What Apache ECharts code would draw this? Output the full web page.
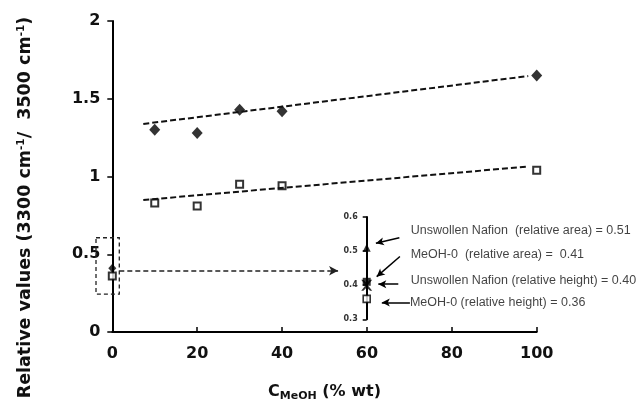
<!DOCTYPE html>
<html>
<head>
<meta charset="utf-8">
<script src="https://cdn.jsdelivr.net/npm/echarts@6/dist/echarts.min.js"></script>
<style>html,body{margin:0;padding:0;background:#fff}#c{width:642px;height:403px}</style>
</head>
<body>
<div id="c"></div>
<script>
// ---- data ----
var xConc = [10, 20, 30, 40, 100];
var areaValues = [1.30, 1.28, 1.43, 1.42, 1.65];      // filled diamonds
var heightValues = [0.83, 0.81, 0.95, 0.94, 1.04];    // open squares
var zeroArea = 0.41;    // MeOH-0 relative area
var zeroHeight = 0.36;  // MeOH-0 relative height
var areaTrend = [[7.3, 1.338], [98, 1.646]];
var heightTrend = [[7.3, 0.849], [97.5, 1.063]];
var zoomBox = [[-3.84, 0.606], [1.65, 0.244]];   // two opposite corners
var zoomArrow = [[1.65, 0.394], [53.2, 0.394]];
var xTicks = [0, 20, 40, 60, 80, 100];
var yTicks = [0, 0.5, 1, 1.5, 2];
// inset
var insetTicks = [0.3, 0.4, 0.5, 0.6];
var unswollenArea = 0.51;
var unswollenHeight = 0.40;
var insetLabels = [
  'Unswollen Nafion  (relative area) = 0.51',
  'MeOH-0  (relative area) =  0.41',
  'Unswollen Nafion (relative height) = 0.40',
  'MeOH-0 (relative height) = 0.36'
];
// annotation positions in inset coordinates (x: 0..10, y: value)
var insetLabelPos = [[1.63, 0.56], [1.63, 0.489], [1.63, 0.415], [1.6, 0.349]];
var insetArrows = [
  [[1.21, 0.539], [0.34, 0.523]],
  [[1.23, 0.484], [0.37, 0.425]],
  [[1.17, 0.403], [0.43, 0.403]],
  [[1.6, 0.349], [0.56, 0.349]]
];

var tickFont = 'DejaVu Sans, Verdana, sans-serif';
var pairs = function (xs, ys) { return xs.map(function (x, i) { return [x, ys[i]]; }); };
var X_PATH = 'path://M0,0L2,0L5,3L8,0L10,0L6,5L10,10L8,10L5,7L2,10L0,10L4,5Z';

var chart = echarts.init(document.getElementById('c'), null, {renderer: 'canvas'});
chart.setOption({
  animation: false,
  backgroundColor: '#fff',
  grid: [
    {left: 112.3, right: 105.3, top: 21, bottom: 71, containLabel: false, outerBoundsMode: 'none'},
    {left: 366.7, top: 217, width: 270, height: 102.3, containLabel: false, outerBoundsMode: 'none'}
  ],
  xAxis: [{
    gridIndex: 0, type: 'value', min: 0, max: 100, interval: 20,
    axisLine: {lineStyle: {color: '#000', width: 2}},
    axisTick: {inside: true, length: 5, lineStyle: {color: '#000', width: 1.5}},
    splitLine: {show: false},
    axisLabel: {color: '#111', fontFamily: tickFont, fontWeight: 'bold', fontSize: 16, margin: 14},
    name: 'C{sub|MeOH} (% wt)', nameLocation: 'middle', nameGap: 50,
    nameTextStyle: {color: '#111', fontFamily: tickFont, fontWeight: 'bold', fontSize: 16,
      rich: {sub: {fontFamily: tickFont, fontWeight: 'bold', fontSize: 11, padding: [9, 0, 0, 0], color: '#111'}}}
  }, {
    gridIndex: 1, type: 'value', min: 0, max: 10, show: false
  }],
  yAxis: [{
    gridIndex: 0, type: 'value', min: 0, max: 2, interval: 0.5,
    axisLine: {show: true, lineStyle: {color: '#000', width: 2}},
    axisTick: {show: true, length: 5, lineStyle: {color: '#000', width: 1.5}},
    splitLine: {show: false},
    axisLabel: {color: '#111', fontFamily: tickFont, fontWeight: 'bold', fontSize: 16, margin: 12},
    name: 'Relative values (3300 cm{sup|-1}/  3500 cm{sup|-1})', nameLocation: 'middle', nameGap: 77, nameRotate: 90,
    nameTextStyle: {color: '#111', fontFamily: tickFont, fontWeight: 'bold', fontSize: 17.5, padding: [0, 62, 0, 0],
      rich: {sup: {fontFamily: tickFont, fontWeight: 'bold', fontSize: 10.5, padding: [0, 0, 9, 0], color: '#111'}}}
  }, {
    gridIndex: 1, type: 'value', min: 0.3, max: 0.6, interval: 0.1,
    axisLine: {show: true, lineStyle: {color: '#000', width: 2}},
    axisTick: {show: true, length: 4, interval: function (i) { return i === 0 || i === 3; },
      lineStyle: {color: '#000', width: 1.5}},
    splitLine: {show: false},
    axisLabel: {color: '#333', fontFamily: tickFont, fontWeight: 'bold', fontSize: 8, margin: 9}
  }],
  series: [
    {type: 'line', xAxisIndex: 0, yAxisIndex: 0, data: areaTrend, symbol: 'none', silent: true,
      lineStyle: {color: '#111', width: 2, type: [6, 3]}},
    {type: 'line', xAxisIndex: 0, yAxisIndex: 0, data: heightTrend, symbol: 'none', silent: true,
      lineStyle: {color: '#111', width: 2, type: [6, 3]}},
    {type: 'custom', xAxisIndex: 0, yAxisIndex: 0, clip: false, silent: true, data: [zoomBox[0].concat(zoomBox[1])],
      encode: {x: [0, 2], y: [1, 3]},
      renderItem: function (params, api) {
        var p1 = api.coord([api.value(0), api.value(1)]);
        var p2 = api.coord([api.value(2), api.value(3)]);
        return {type: 'rect', shape: {x: p1[0], y: p1[1], width: p2[0] - p1[0], height: p2[1] - p1[1]},
          style: {fill: 'none', stroke: '#222', lineWidth: 1.3, lineDash: [4, 3]}};
      }},
    {type: 'line', xAxisIndex: 0, yAxisIndex: 0, data: [], symbol: 'none', silent: true,
      markLine: {silent: true, symbol: ['none', 'arrow'], symbolSize: [7, 9], label: {show: false},
        lineStyle: {color: '#222', width: 1.5, type: [5, 3]},
        data: [[{coord: zoomArrow[0]}, {coord: zoomArrow[1]}]]}},
    {type: 'scatter', xAxisIndex: 0, yAxisIndex: 0, data: pairs(xConc, areaValues),
      symbol: 'diamond', symbolSize: [11, 12], itemStyle: {color: '#000'}},
    {type: 'scatter', xAxisIndex: 0, yAxisIndex: 0, data: [[0, zeroArea]], clip: false,
      symbol: 'diamond', symbolSize: [8, 9], itemStyle: {color: '#000'}},
    {type: 'scatter', xAxisIndex: 0, yAxisIndex: 0, data: pairs(xConc, heightValues).concat([[0, zeroHeight]]),
      clip: false, symbol: 'rect', symbolSize: 7, itemStyle: {color: '#fff', borderColor: '#000', borderWidth: 2}},
    // inset
    {type: 'scatter', xAxisIndex: 1, yAxisIndex: 1, data: [[0, unswollenArea]], symbol: 'triangle', symbolSize: 8,
      itemStyle: {color: '#000'}},
    {type: 'scatter', xAxisIndex: 1, yAxisIndex: 1, data: [[0, unswollenHeight]], symbol: X_PATH, symbolSize: 11,
      itemStyle: {color: '#000'}},
    {type: 'scatter', xAxisIndex: 1, yAxisIndex: 1, data: [[0, zeroArea]], symbol: 'rect', symbolSize: 8,
      itemStyle: {color: '#000'}},
    {type: 'scatter', xAxisIndex: 1, yAxisIndex: 1, data: [[0, zeroHeight]], symbol: 'rect', symbolSize: 7,
      itemStyle: {color: '#fff', borderColor: '#000', borderWidth: 1.6}},
    {type: 'scatter', xAxisIndex: 1, yAxisIndex: 1, symbolSize: 0, silent: true,
      data: insetLabelPos.map(function (p, i) { return {value: p, name: insetLabels[i]}; }),
      label: {show: true, position: 'right', distance: 0, formatter: '{b}', color: '#111',
        fontFamily: 'Liberation Sans, Arial, sans-serif', fontSize: 12.5}},
    {type: 'line', xAxisIndex: 1, yAxisIndex: 1, data: [], symbol: 'none', silent: true,
      markLine: {silent: true, symbol: ['none', 'arrow'], symbolSize: [6, 8], label: {show: false},
        lineStyle: {color: '#000', width: 1.5, type: 'solid'},
        data: insetArrows.map(function (a) { return [{coord: a[0]}, {coord: a[1]}]; })}}
  ]
});
</script>
</body>
</html>
